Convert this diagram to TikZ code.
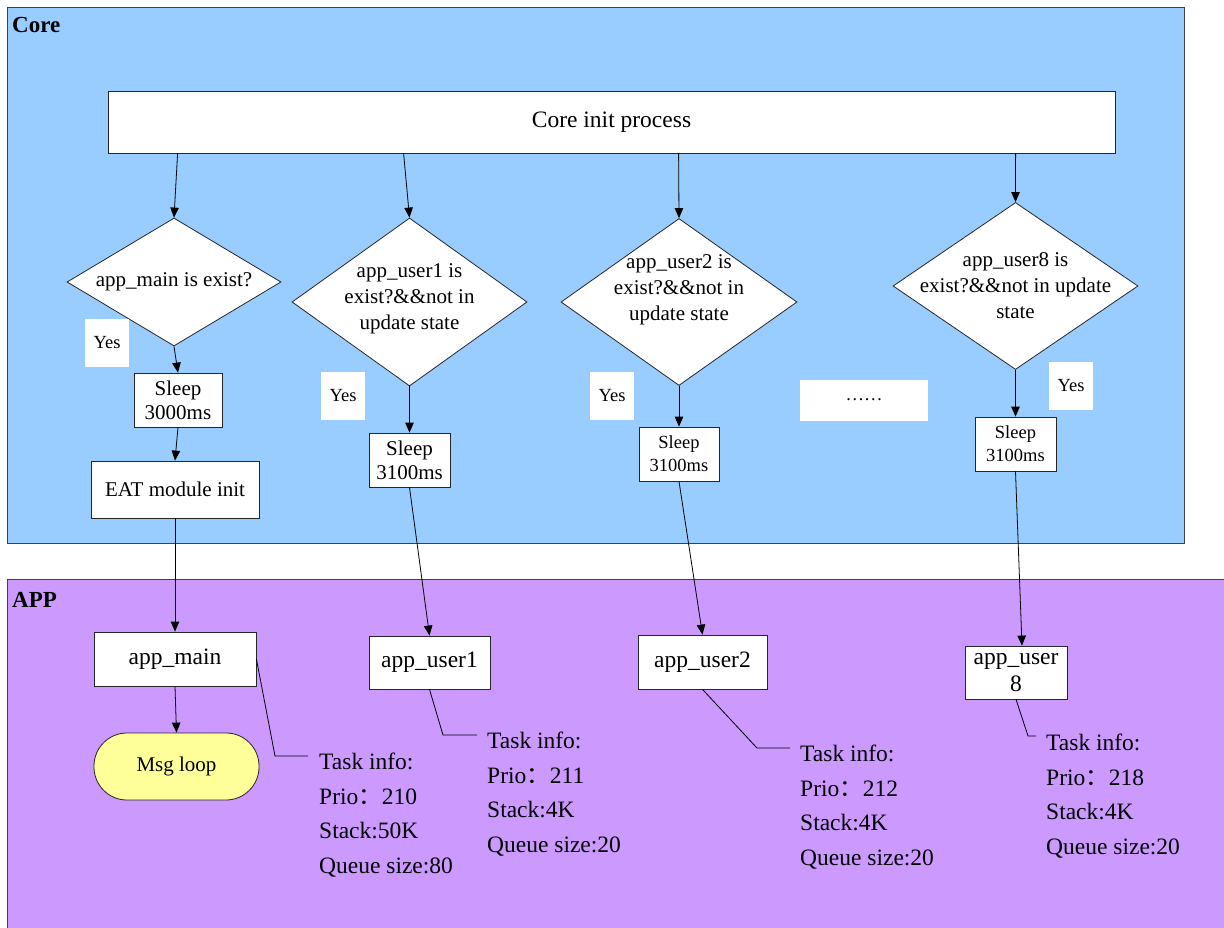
\documentclass[tikz,border=0pt]{standalone}
\usepackage{fontspec}
\setmainfont{Liberation Serif}
\newfontfamily\cjk{Noto Sans CJK SC}
\usepackage{tikz}
\usetikzlibrary{arrows.meta, shapes.geometric, calc}
\definecolor{corebg}{RGB}{153,204,255}
\definecolor{appbg}{RGB}{204,153,255}
\definecolor{loopbg}{RGB}{255,255,153}
\newcommand{\fbig}{\fontsize{23.5}{27}\selectfont}
\newcommand{\fmid}{\fontsize{21}{24}\selectfont}
\newcommand{\fdia}{\fontsize{21}{26}\selectfont}
\newcommand{\fsmall}{\fontsize{18.5}{23}\selectfont}
\tikzset{
>={Triangle[length=10pt,width=8.5pt]}, % filled arrow heads
panel/.style={draw=black!75, line width=0.8pt, anchor=north west, inner sep=0pt},
title/.style={font=\bfseries\fontsize{23}{26}\selectfont, anchor=west, inner sep=0pt},
box/.style={draw=black!85, fill=white, line width=0.8pt, inner sep=0pt, align=center},
decision/.style={diamond, draw=black!85, fill=white, line width=0.8pt, inner sep=0pt},
dtext/.style={align=center, font=\fdia, inner sep=0pt},
yesbox/.style={fill=white, inner sep=0pt, font=\fsmall, minimum width=44pt, minimum height=48pt},
flow/.style={->, line width=0.8pt}, % arrows of the flow
leader/.style={line width=0.8pt}, % lines to the task info
info/.style={anchor=north west, align=left, inner sep=0pt, font=\fontsize{23.5}{34.5}\selectfont},
}

\begin{document}
\begin{tikzpicture}[x=1pt, y=-1pt]
  \useasboundingbox (0,0) rectangle (1224,928);

  % Core
  \node[panel, fill=corebg, minimum width=1177pt, minimum height=536pt] (core) at (7,7) {};
  \node[title] (coretitle) at (12,25) {Core};

  % APP
  \node[panel, fill=appbg, minimum width=1222pt, minimum height=354pt] (app) at (7,579) {};
  \node[title] (apptitle) at (12,600) {APP};

  \node[box, font=\fbig, minimum width=1007pt, minimum height=62pt] (init) at (611.5,122) {Core init process};

  % decisions
  \node[decision, minimum width=214pt, minimum height=128pt,
    label={[dtext]center:app\_main is exist?}] (d1) at (174,282) {};
  \node[decision, minimum width=235pt, minimum height=168pt,
    label={[dtext, yshift=3pt]center:app\_user1 is\\exist?\&\&not in\\update state}] (d2) at (409.5,302) {};
  \node[decision, minimum width=236pt, minimum height=167pt,
    label={[dtext, yshift=12pt]center:app\_user2 is\\exist?\&\&not in\\update state}] (d3) at (679,302) {};
  \node[decision, minimum width=245pt, minimum height=167pt,
    label={[dtext]center:app\_user8 is\\exist?\&\&not in update\\state}] (d8) at (1015.5,286) {};

  % Yes
  \node[yesbox] (yes1) at (107,343) {Yes};
  \node[yesbox] (yes2) at (343,396) {Yes};
  \node[yesbox] (yes3) at (612,396) {Yes};
  \node[yesbox] (yes8) at (1071,386) {Yes};
  \node[yesbox, minimum width=128pt, minimum height=41pt] (dots) at (864,400) {……};

  % sleeps
  \node[box, font=\fmid, minimum width=88pt, minimum height=54pt] (s0) at (178,400) {Sleep\\3000ms};
  \node[box, font=\fmid, minimum width=81pt, minimum height=54pt] (s1) at (409.5,460) {Sleep\\3100ms};
  \node[box, font=\fsmall, minimum width=80pt, minimum height=54pt] (s2) at (679,454) {Sleep\\3100ms};
  \node[box, font=\fsmall, minimum width=81pt, minimum height=54pt] (s8) at (1015.5,444) {Sleep\\3100ms};
  \node[box, font=\fmid, minimum width=168pt, minimum height=57pt] (eat) at (175,489.5) {EAT module init};

  % tasks
  \node[box, font=\fbig, minimum width=162pt, minimum height=54pt] (appmain) at (175,659) {app\_main};
  \node[box, font=\fmid, fill=loopbg, rounded corners=33pt, minimum width=165pt, minimum height=67pt] (msg) at (176.5,766.5) {Msg loop};
  \node[box, font=\fbig, minimum width=121pt, minimum height=53pt] (u1) at (429.5,662.5) {app\_user1};
  \node[box, font=\fbig, minimum width=129pt, minimum height=54pt] (u2) at (702.5,662) {app\_user2};
  \node[box, font=\fbig, minimum width=102pt, minimum height=53pt] (u8) at (1016,672.5) {app\_user\\8};

  % task info
  \node[info] (info0) at (319,753) {Task info:\\Prio{\cjk ：}210\\Stack:50K\\Queue size:80};
  \node[info] (info1) at (487,732) {Task info:\\Prio{\cjk ：}211\\Stack:4K\\Queue size:20};
  \node[info] (info2) at (800,745) {Task info:\\Prio{\cjk ：}212\\Stack:4K\\Queue size:20};
  \node[info] (info8) at (1046,734) {Task info:\\Prio{\cjk ：}218\\Stack:4K\\Queue size:20};

  % arrows
  \draw[flow] ([xshift=70pt]init.south west) -- (d1.north);
  \draw[flow] ([xshift=296pt]init.south west) -- (d2.north);
  \draw[flow] ([xshift=571pt]init.south west) -- (d3.north);
  \draw[flow] ([xshift=908pt]init.south west) -- (d8.north);
  \draw[flow] (d1.south) -- (s0.north);
  \draw[flow] (d2.south) -- (s1.north);
  \draw[flow] (d3.south) -- (s2.north);
  \draw[flow] (d8.south) -- (s8.north);
  \draw[flow] (s0.south) -- (eat.north);
  \draw[flow] (eat.south) -- (appmain.north);
  \draw[flow] (s1.south) -- (u1.north);
  \draw[flow] (s2.south) -- (u2.north);
  \draw[flow] (s8.south) -- ([xshift=6pt]u8.north);
  \draw[flow] (appmain.south) -- (msg.north);

  % leaders
  \draw[leader] (appmain.east) -- (275,756) -- ($(info0.north west)+(-11,3)$);
  \draw[leader] (u1.south) -- (443,735) -- ($(info1.north west)+(-10,3)$);
  \draw[leader] (u2.south) -- (757,748) -- ($(info2.north west)+(-10,3)$);
  \draw[leader] (u8.south) -- (1028,736) -- ($(info8.north west)+(-10,2)$);
\end{tikzpicture}
\end{document}
